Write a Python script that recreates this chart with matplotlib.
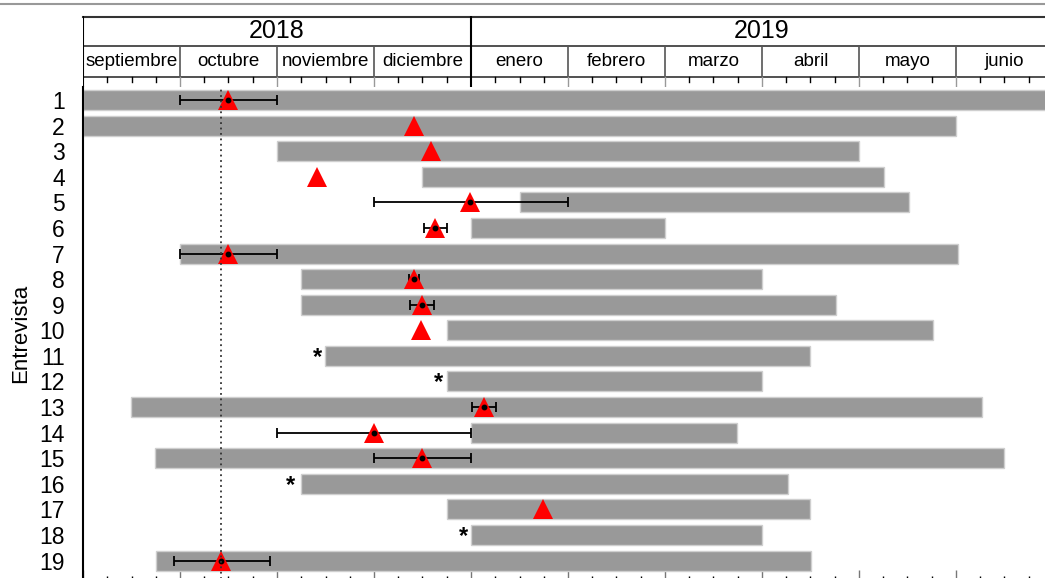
import matplotlib.pyplot as plt
from matplotlib.lines import Line2D
import numpy as np

plt.rcParams['font.family'] = ['Liberation Sans', 'DejaVu Sans']

# x in months, 0 = 1 sept 2018
months = ["septiembre", "octubre", "noviembre", "diciembre", "enero",
          "febrero", "marzo", "abril", "mayo", "junio"]
years = ["2018", "2019"]
year_bounds = [(0, 4), (4, 10)]

interviews = list(range(1, 20))
bar_start = [0.0, 0.0, 2.0, 3.49, 4.5, 4.0, 1.0, 2.25, 2.25, 3.75,
             2.49, 3.75, 0.49, 4.0, 0.74, 2.25, 3.75, 4.0, 0.75]
bar_end = [10.2, 9.0, 8.0, 8.26, 8.52, 6.0, 9.02, 7.0, 7.76, 8.76,
           7.5, 7.0, 9.27, 6.74, 9.5, 7.27, 7.5, 7.0, 7.51]
# event estimate (triangle) with low/high range, None = no range
event = [1.5, 3.41, 3.59, 2.41, 3.99, 3.63, 1.5, 3.41, 3.49, 3.48,
         None, None, 4.13, 3.0, 3.49, None, 4.74, None, 1.42]
ev_low = [1.0, None, None, None, 3.0, 3.52, 1.0, 3.36, 3.37, None,
          None, None, 4.01, 2.0, 3.0, None, None, None, 0.94]
ev_high = [2.0, None, None, None, 5.0, 3.75, 2.0, 3.46, 3.62, None,
           None, None, 4.26, 4.0, 4.0, None, None, None, 1.93]
star_x = {11: 2.42, 12: 3.67, 16: 2.14, 18: 3.92}
ref_line = 1.42

W, H = 1045, 578
fig = plt.figure(figsize=(W / 100, H / 100), dpi=100)
x0, x1 = 83, 1045
xmax = (x1 - x0) / 97.0

# main axes (bottom edge a little below the figure)
ax = fig.add_axes([x0 / W, -2 / H, (x1 - x0) / W, (H - 87 + 2) / H])
ax.set_xlim(0, xmax)
ax.set_ylim(19.76, 0.49)

ax.barh(interviews, np.array(bar_end) - np.array(bar_start), left=bar_start,
        height=0.78, color='#999999', edgecolor='#cfcfcf', linewidth=1, zorder=2)

for i, y in enumerate(interviews):
    if event[i] is None:
        continue
    if ev_low[i] is not None:
        ax.errorbar(event[i], y, xerr=[[event[i] - ev_low[i]], [ev_high[i] - event[i]]],
                    fmt='none', ecolor='black', elinewidth=1.3, capsize=3.5,
                    capthick=1.3, zorder=3)
    ax.plot(event[i], y, marker='^', color='#ff0000', markersize=14,
            markeredgewidth=0, linestyle='none', zorder=4)
    if ev_low[i] is not None:
        ax.plot(event[i], y, marker='o', color='black', markersize=3.2,
                linestyle='none', zorder=5)

for k, sx in star_x.items():
    ax.text(sx, k + 0.05, '*', ha='center', va='center', fontsize=17,
            fontweight='bold', zorder=5)

ax.axvline(ref_line, color='#333333', linestyle=(0, (1, 2)), linewidth=1.3, zorder=6)

ax.set_yticks(interviews)
ax.set_yticklabels([str(v) for v in interviews], fontsize=16.5)
ax.tick_params(axis='y', length=0, pad=13)
ax.set_ylabel("Entrevista", fontsize=16, labelpad=6)

ax.set_xticks(np.arange(0, 10))
ax.set_xticks([m + q for m in range(10) for q in (0.25, 0.5, 0.75)], minor=True)
ax.set_xticklabels([])
ax.tick_params(axis='x', which='major', direction='in', length=7, width=1, color='#777777')
ax.tick_params(axis='x', which='minor', direction='in', length=3, width=1, color='black')
for s in ['top', 'right', 'bottom']:
    ax.spines[s].set_visible(False)
ax.spines['left'].set_linewidth(1.5)

# header axes with years and months, pixel y coordinates
axh = fig.add_axes([x0 / W, (H - 87) / H, (x1 - x0) / W, (87 - 16) / H])
axh.set_xlim(0, xmax)
axh.set_ylim(87, 16)
axh.axis('off')

axh.plot([0, xmax], [16.5, 16.5], color='#333333', lw=1.5, clip_on=False)
axh.plot([0, xmax], [46, 46], color='#333333', lw=1.2)
axh.plot([0, xmax], [77, 77], color='#333333', lw=1.2)
axh.plot([0, 0], [16, 87], color='black', lw=1.5)
for (a, b), yr in zip(year_bounds, years):
    axh.text((a + b) / 2, 31.5, yr, ha='center', va='center', fontsize=18)
axh.plot([4, 4], [16, 87], color='black', lw=1.5)
for m, name in enumerate(months):
    if m > 0 and m != 4:
        axh.plot([m, m], [46, 77], color='#555555', lw=1.2)
        axh.plot([m, m], [77, 87], color='#999999', lw=1.0)
    axh.text(m + 0.5, 61, name, ha='center', va='center', fontsize=13.5)
    for q in (0.25, 0.5, 0.75):
        if m + q < xmax:
            axh.plot([m + q, m + q], [77, 82], color='black', lw=1.0)

# thin rule at top of figure
fig.add_artist(Line2D([0, 1], [1 - 4 / H, 1 - 4 / H], color='#999999', lw=1.5))

fig.savefig("out.png", dpi=100)
